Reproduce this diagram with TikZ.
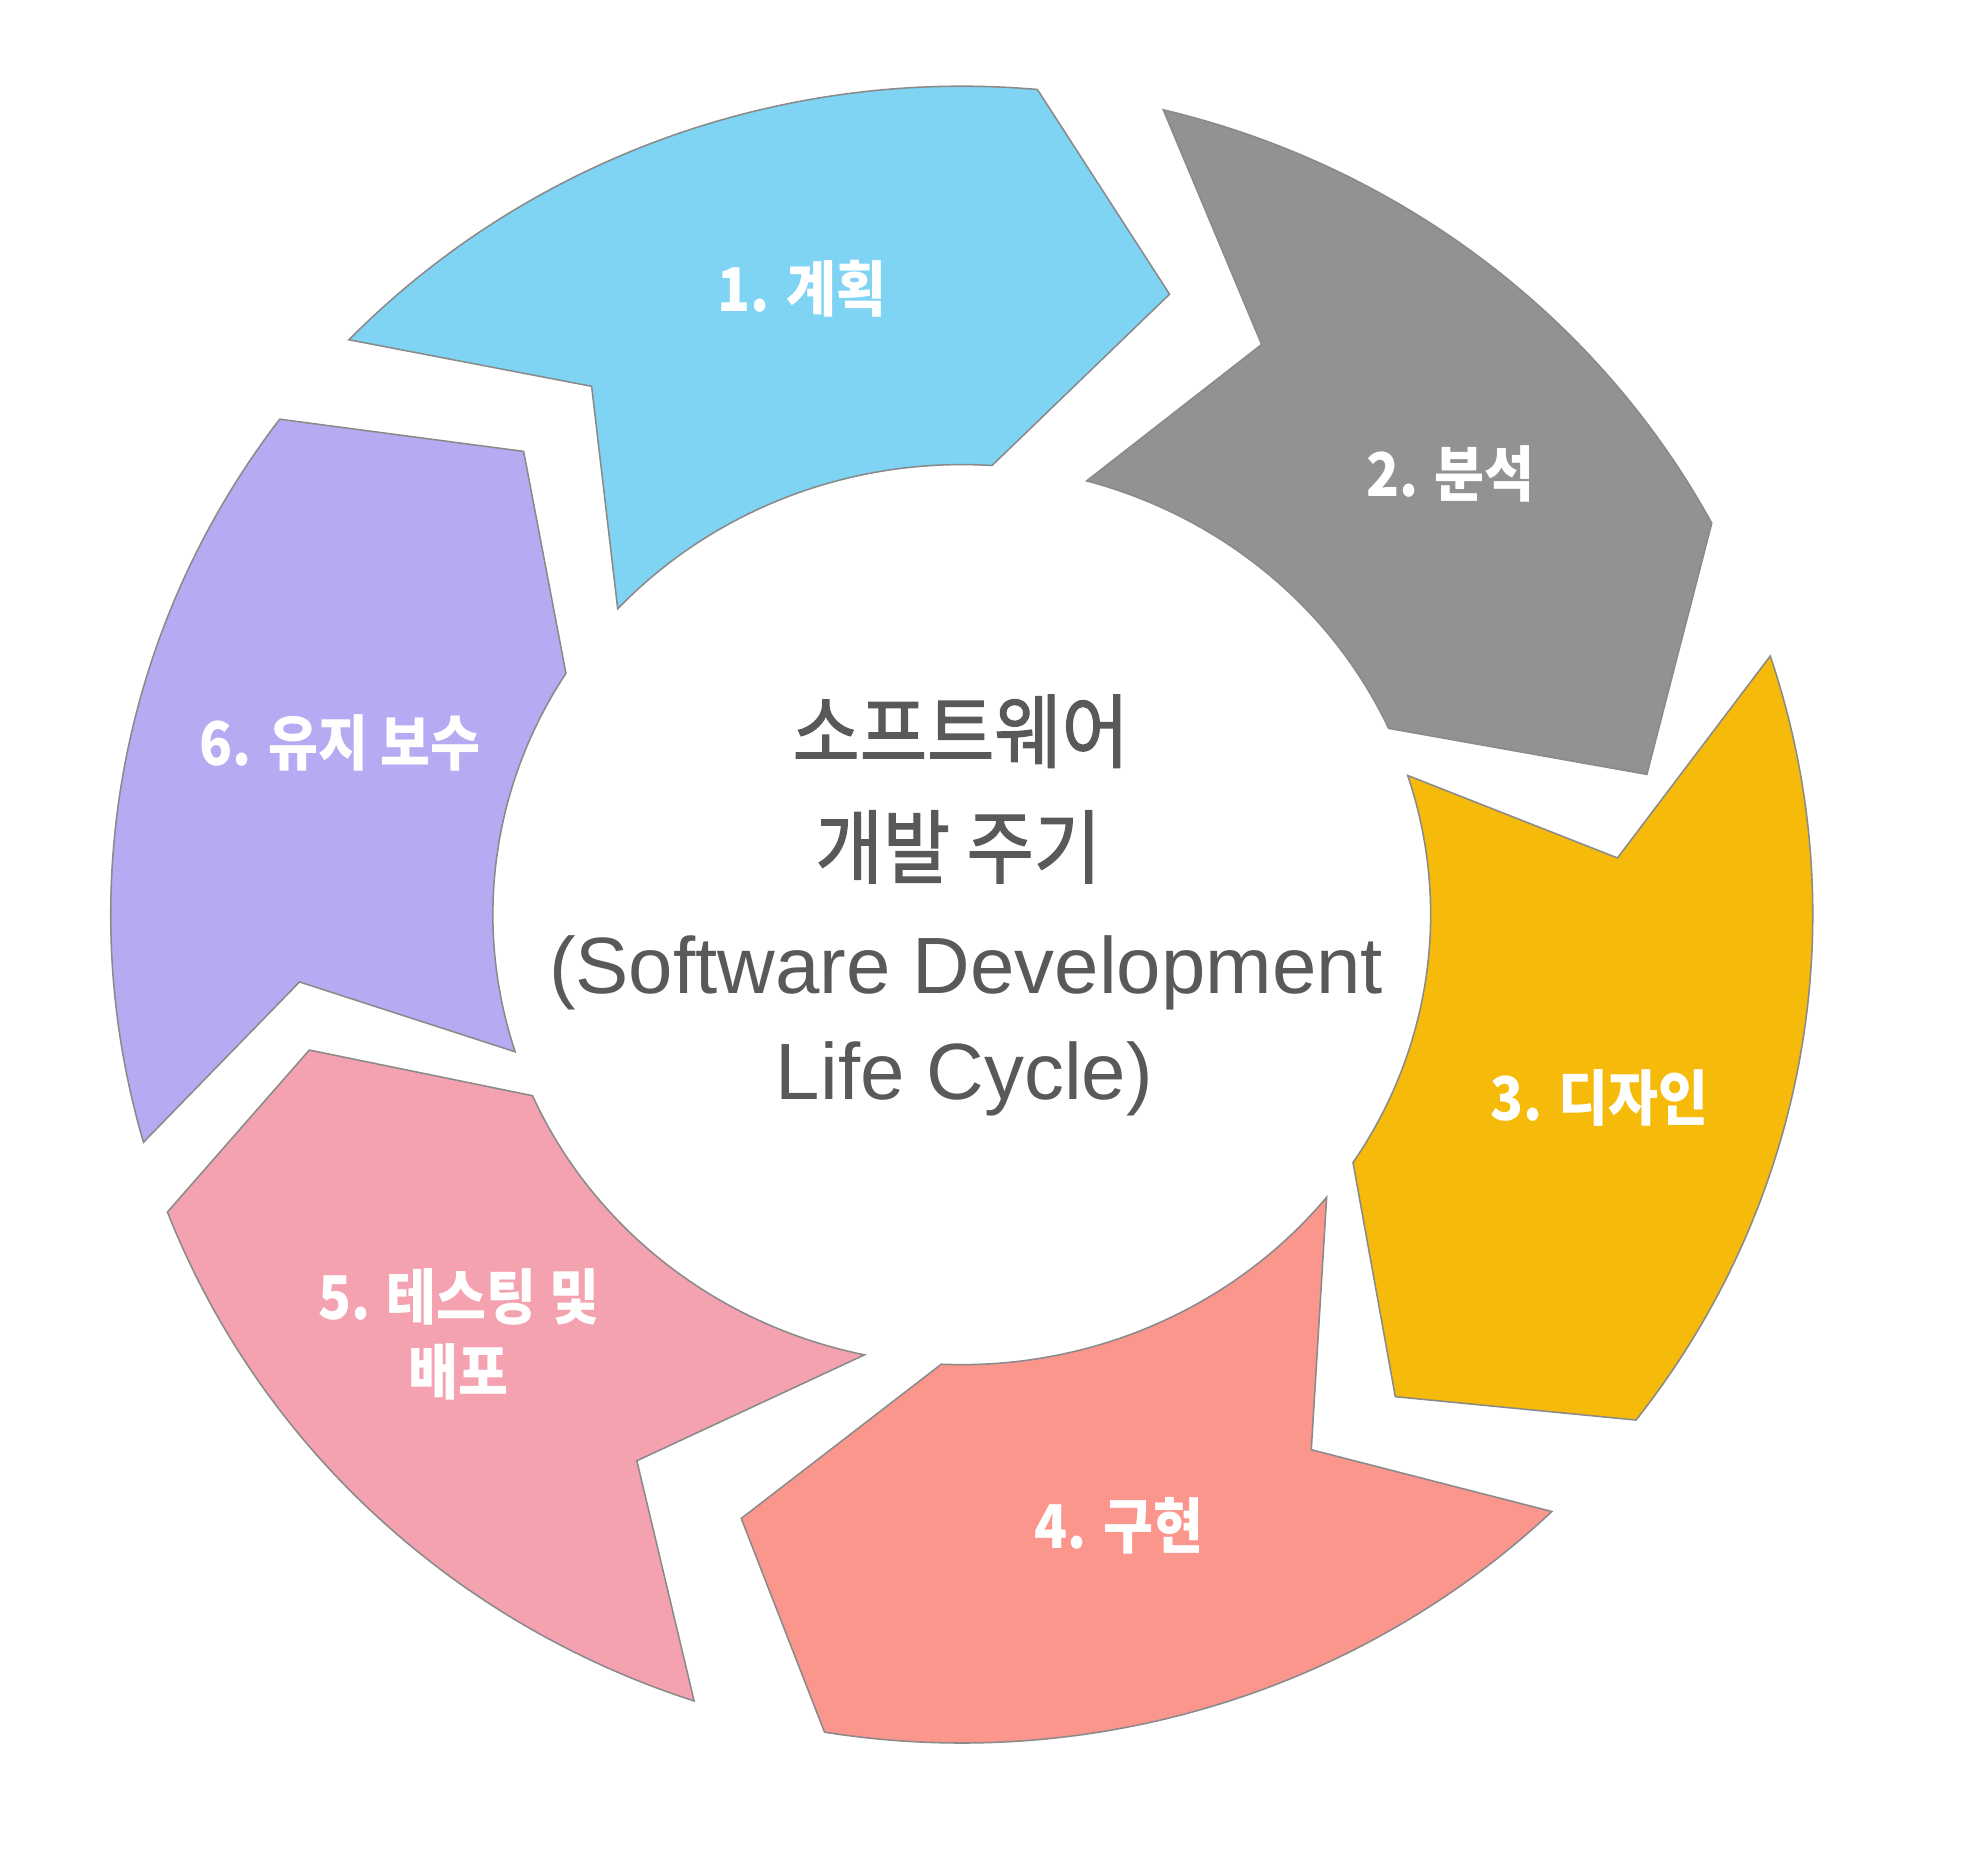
\documentclass[tikz,border=0pt]{standalone}
\usepackage{fontspec}
\usepackage{graphicx}
\setmainfont{Liberation Sans}
\newfontfamily\krfont{Noto Sans CJK KR}
\newfontfamily\krtitle{Noto Sans CJK KR}[FakeBold=1.6]
\usetikzlibrary{calc}

\definecolor{planblue}{HTML}{7FD4F4}
\definecolor{analysisgray}{HTML}{929292}
\definecolor{designyellow}{HTML}{F6BA0B}
\definecolor{buildsalmon}{HTML}{FB968D}
\definecolor{testpink}{HTML}{F4A2B0}
\definecolor{carepurple}{HTML}{B7AAF2}
\definecolor{edgegray}{HTML}{8A8A8A}
\definecolor{titlegray}{HTML}{595959}

\begin{document}
\begin{tikzpicture}[x=0.01cm,y=0.01cm,
  seg/.style={draw=edgegray, line width=0.35pt, line join=miter},
  outer/.style={x radius=6.77cm, y radius=6.59cm},
  inner/.style={x radius=3.73cm, y radius=3.58cm},
  stage/.style={text=white, anchor=base, inner sep=0pt,
    font=\krfont\bfseries\fontsize{13.66}{16}\selectfont},
  titlekr/.style={text=titlegray, anchor=base, inner sep=0pt,
    font=\krtitle\fontsize{18.2}{22}\selectfont},
  titleen/.style={text=titlegray, anchor=base, inner sep=0pt,
    font=\fontsize{18.07}{22}\selectfont}]

\fill[white] (0,0) rectangle (1568,1482);
\useasboundingbox (0,0) rectangle (1568,1482);

\coordinate (C) at (765.5,754);

% ends of the arcs, on the outer and inner ellipses of the ring
\begin{scope}[shift={(C)}]
  \coordinate (p1o) at (136.06:6.77cm and 6.59cm);
  \coordinate (p1i) at (86.3:3.73cm and 3.58cm);
  \coordinate (p2o) at (76.3:6.77cm and 6.59cm);
  \coordinate (p2i) at (24.45:3.73cm and 3.58cm);
  \coordinate (p3i) at (18.01:3.73cm and 3.58cm);
  \coordinate (p3o) at (-37.6:6.77cm and 6.59cm);
  \coordinate (p4i) at (-38.9:3.73cm and 3.58cm);
  \coordinate (p4o) at (-46.1:6.77cm and 6.59cm);
  \coordinate (p4j) at (-92.5:3.73cm and 3.58cm);
  \coordinate (p5i) at (203.73:3.73cm and 3.58cm);
  \coordinate (p5o) at (251.67:6.77cm and 6.59cm);
  \coordinate (p6o) at (143.27:6.77cm and 6.59cm);
  \coordinate (p6i) at (147.58:3.73cm and 3.58cm);
  \coordinate (p6b) at (195.95:6.77cm and 6.59cm);
\end{scope}

% straight corners of the arrow heads and tail notches
\coordinate (p1tip) at (930.9,1247.8);
\coordinate (p1notch) at (470.9,1174.5);
\coordinate (p2tip) at (1310.8,865.6);
\coordinate (p2notch) at (1004.2,1207.8);
\coordinate (p3tip) at (1110.6,370.3);
\coordinate (p3notch) at (1287.4,799.1);
\coordinate (p4notch) at (1043.7,328.1);
\coordinate (p4tip) at (590.0,273.4);
\coordinate (p5top) at (246.2,646.2);
\coordinate (p5notch) at (506.9,319.3);
\coordinate (p6tip) at (416.8,1122.7);
\coordinate (p6notch) at (238.4,700.4);

% 1. planning
\draw[seg, fill=planblue] (p1o) arc[outer, start angle=136.06, end angle=84.9]
  -- (p1tip) -- (p1i) arc[inner, start angle=86.3, end angle=137.2]
  -- (p1notch) -- cycle;
% 2. analysis
\draw[seg, fill=analysisgray] (p2o) arc[outer, start angle=76.3, end angle=28.2]
  -- (p2tip) -- (p2i) arc[inner, start angle=24.45, end angle=74.55]
  -- (p2notch) -- cycle;
% 3. design
\draw[seg, fill=designyellow] (p3i) arc[inner, start angle=18.01, end angle=-33.44]
  -- (p3tip) -- (p3o) arc[outer, start angle=-37.6, end angle=18.19]
  -- (p3notch) -- cycle;
% 4. implementation
\draw[seg, fill=buildsalmon] (p4i) -- (p4notch)
  -- (p4o) arc[outer, start angle=-46.1, end angle=-99.28]
  -- (p4tip) -- (p4j) arc[inner, start angle=-92.5, end angle=-38.9] -- cycle;
% 5. testing and deployment
\draw[seg, fill=testpink] (p5top) -- (p5i) arc[inner, start angle=203.73, end angle=258.03]
  -- (p5notch) -- (p5o) arc[outer, start angle=251.67, end angle=201.04] -- cycle;
% 6. maintenance
\draw[seg, fill=carepurple] (p6o) -- (p6tip)
  -- (p6i) arc[inner, start angle=147.58, end angle=197.75]
  -- (p6notch) -- (p6b) arc[outer, start angle=195.95, end angle=143.27] -- cycle;

% stage labels
\node[stage] (l1) at (638.1,1234) {\scalebox{0.9}[1]{1. 계획}};
\node[stage] (l2) at (1154.5,1087.1) {\scalebox{0.9}[1]{2. 분석}};
\node[stage] (l3) at (1273,589.8) {\scalebox{0.9}[1]{3. 디자인}};
\node[stage] (l4) at (890.7,249.4) {\scalebox{0.9}[1]{4. 구현}};
\node[stage] (l5a) at (365,431.9) {\scalebox{0.9}[1]{5. 테스팅 및}};
\node[stage] (l5b) at (365,372) {\scalebox{0.9}[1]{배포}};
\node[stage] (l6) at (270.5,873) {\scalebox{0.9}[1]{6. 유지 보수}};

% title in the middle of the ring
\node[titlekr] (t1) at (764.7,876) {\scalebox{0.91}[1]{소프트웨어}};
\node[titlekr] (t2) at (762.8,784) {\scalebox{0.91}[1]{개발 주기}};
\node[titleen] (t3) at (769,691.4) {(Software Development};
\node[titleen] (t4) at (767.7,607) {Life Cycle)};
\end{tikzpicture}
\end{document}
